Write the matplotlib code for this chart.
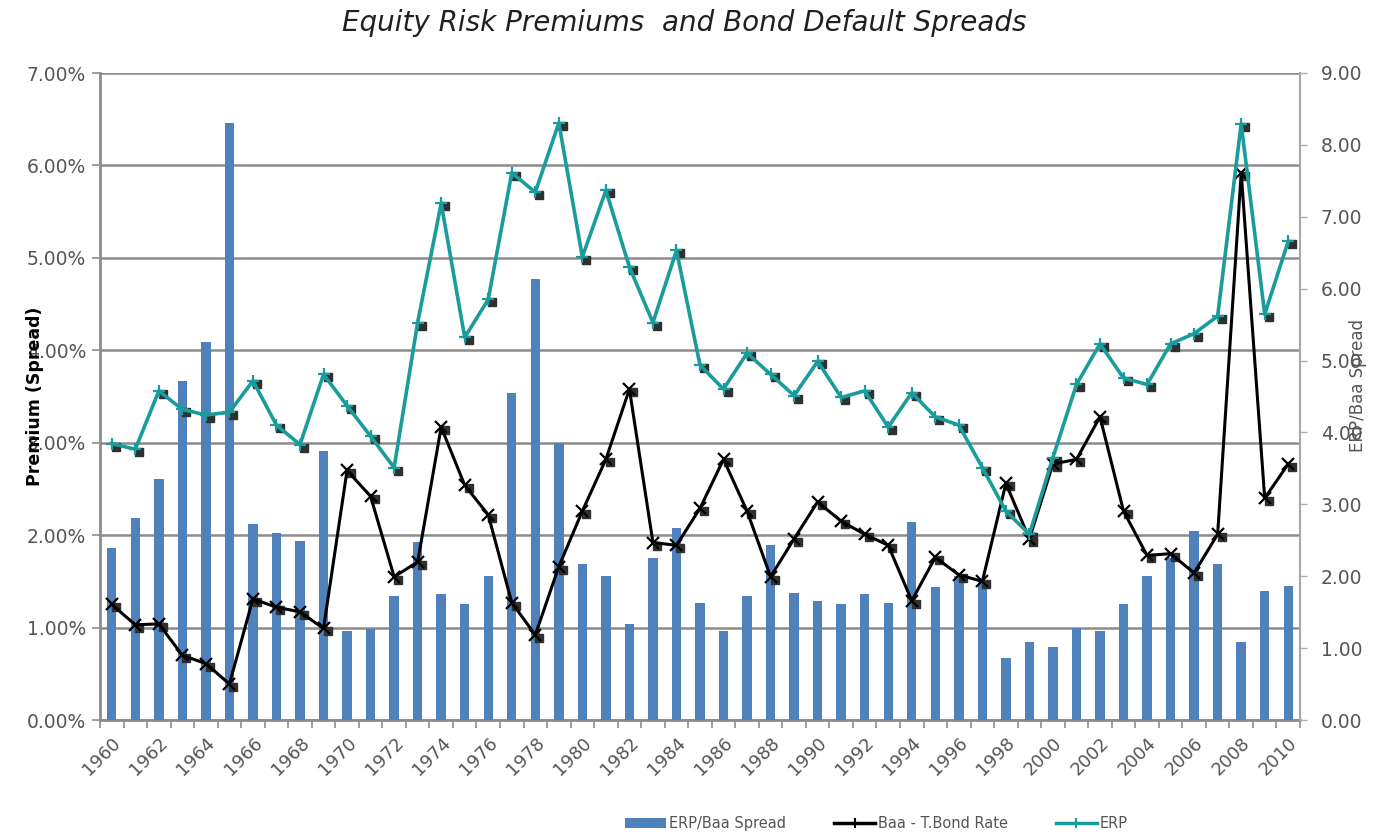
import matplotlib
matplotlib.use("Agg")
from matplotlib import pyplot as plt
from matplotlib.transforms import offset_copy
import numpy as np

years = list(range(1960, 2011))

# ERP / (Baa - T.Bond) ratio, right axis
ratio = [2.39, 2.81, 3.35, 4.71, 5.26, 8.30, 2.73, 2.60, 2.49, 3.74,
         1.24, 1.27, 1.72, 2.47, 1.75, 1.62, 2.01, 4.55, 6.14, 3.85,
         2.17, 2.01, 1.34, 2.25, 2.67, 1.63, 1.24, 1.72, 2.44, 1.77,
         1.66, 1.62, 1.75, 1.63, 2.76, 1.85, 2.01, 1.95, 0.86, 1.08,
         1.02, 1.28, 1.24, 1.62, 2.01, 2.26, 2.63, 2.17, 1.08, 1.79,
         1.87]

# Baa - T.Bond rate, percent
spread = [1.25, 1.03, 1.04, 0.70, 0.61, 0.39, 1.31, 1.22, 1.17, 0.99,
          2.70, 2.42, 1.55, 1.71, 3.17, 2.54, 2.22, 1.27, 0.92, 1.66,
          2.26, 2.82, 3.58, 1.92, 1.89, 2.29, 2.82, 2.26, 1.55, 1.96,
          2.36, 2.15, 2.01, 1.89, 1.29, 1.76, 1.57, 1.50, 2.56, 1.96,
          2.77, 2.82, 3.28, 2.26, 1.78, 1.80, 1.59, 2.01, 5.92, 2.40,
          2.77]

# ERP, percent
erp = [2.99, 2.93, 3.56, 3.36, 3.30, 3.33, 3.67, 3.19, 2.98, 3.74,
       3.40, 3.07, 2.73, 4.30, 5.59, 4.14, 4.55, 5.92, 5.71, 6.46,
       5.01, 5.73, 4.90, 4.30, 5.08, 3.84, 3.58, 3.97, 3.74, 3.51,
       3.88, 3.49, 3.56, 3.17, 3.54, 3.28, 3.19, 2.73, 2.26, 2.01,
       2.84, 3.63, 4.07, 3.70, 3.63, 4.07, 4.18, 4.37, 6.45, 4.39,
       5.18]

bar_color = "#4F81BD"
teal = "#1A9C9C"
grid_color = "#8C8C8C"
txt_color = "#555555"

x = np.arange(len(years))

fig = plt.figure(figsize=(13.76, 8.36), dpi=100)
rect = [100 / 1376, 1 - 720 / 836, 1200 / 1376, (720 - 73) / 836]

# left axis: percent scale + gridlines
ax = fig.add_axes(rect)
ax.set_xlim(-0.5, len(years) - 0.5)
ax.set_ylim(0, 7)
ax.set_yticks(np.arange(0, 8))
ax.set_yticklabels([f"{v:.2f}%" for v in range(8)], fontsize=13.5, color=txt_color)
ax.grid(axis="y", color=grid_color, linewidth=1.8)
ax.set_axisbelow(True)
ax.tick_params(axis="y", direction="out", length=6, width=1.2, color=grid_color, pad=4)
ax.set_ylabel("Premium (Spread)", fontsize=12.5, fontweight="bold", color="black", labelpad=2)
ax.yaxis.set_label_coords(-0.047, 0.5)

# x ticks: labels every 2 years, marks at category boundaries
ax.set_xticks(x[::2])
ax.set_xticklabels([str(y) for y in years[::2]], rotation=45, ha="right",
                   rotation_mode="anchor", fontsize=13, color=txt_color)
ax.set_xticks(np.arange(-0.5, len(years), 1.0), minor=True)
ax.tick_params(axis="x", which="major", length=0, pad=10)
ax.tick_params(axis="x", which="minor", length=6, width=1.2, color=grid_color)
for side in ["top", "right"]:
    ax.spines[side].set_visible(False)
ax.spines["left"].set_color(grid_color)
ax.spines["left"].set_linewidth(2)
ax.spines["bottom"].set_color(grid_color)
ax.spines["bottom"].set_linewidth(2)

# right axis: bars
axb = ax.twinx()
axb.set_ylim(0, 9)
axb.bar(x, ratio, width=0.4, color=bar_color, label="ERP/Baa Spread")
axb.set_yticks(np.arange(0, 10))
axb.set_yticklabels([f"{v:.2f}" for v in range(10)], fontsize=13.5, color=txt_color)
axb.tick_params(axis="y", direction="out", length=5, width=1, color="#B0B0B0", pad=10)
for side in ["top", "left", "bottom"]:
    axb.spines[side].set_visible(False)
axb.spines["right"].set_color("#A8A8A8")
axb.spines["right"].set_linewidth(1.5)

# lines on top
axl = ax.twinx()
axl.set_ylim(0, 7)
axl.axis("off")
shadow = offset_copy(axl.transData, fig=fig, x=4, y=-3, units="dots")
axl.plot(x, erp, "s", color="#303030", ms=6, transform=shadow)
axl.plot(x, spread, "s", color="#303030", ms=6, transform=shadow)
axl.plot(x, spread, color="black", lw=2.2, marker="x", ms=8, mew=1.6)
axl.plot(x, erp, color=teal, lw=2.6, marker="+", ms=9, mew=1.6)

fig.text(0.497, 0.972, "Equity Risk Premiums  and Bond Default Spreads",
         ha="center", va="center", fontsize=20, style="italic", color="#202020")
fig.text(1358 / 1376, 1 - 385 / 836, "ERP/Baa Spread", rotation=90,
         ha="center", va="center", fontsize=12, color=txt_color)

h_bar = axb.get_legend_handles_labels()[0]
h_spread = plt.Line2D([], [], color="black", lw=2.5, marker="+", ms=7, mew=1.5)
h_erp = plt.Line2D([], [], color=teal, lw=2.5, marker="+", ms=7, mew=1.5)
fig.legend(h_bar + [h_spread, h_erp],
           ["ERP/Baa Spread", "Baa - T.Bond Rate", "ERP"],
           loc="center", bbox_to_anchor=(0.637, 0.015), ncol=3, frameon=False,
           fontsize=10.5, handlelength=2.8, handleheight=0.7, columnspacing=3.3,
           handletextpad=0.2, labelcolor=txt_color)

fig.savefig("out.png", dpi=100)
